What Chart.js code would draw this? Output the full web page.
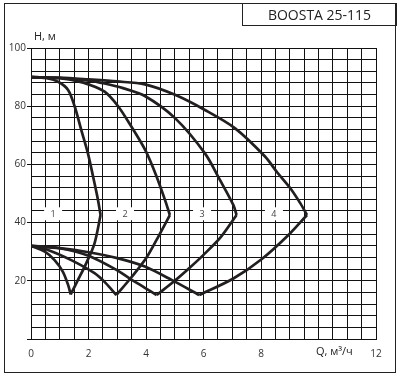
<!DOCTYPE html>
<html>
<head>
<meta charset="utf-8">
<script src="https://cdn.jsdelivr.net/npm/chart.js@4"></script>
<style>
  html, body { margin: 0; padding: 0; background: #fff; }
  #wrap { position: relative; width: 400px; height: 376px; }
  #frame { position: absolute; left: 4px; top: 3px; width: 392px; height: 370px; border: 1px solid #222; box-sizing: border-box; }
  #title { position: absolute; left: 242px; top: 3px; width: 155px; height: 23px; border: 1px solid #222; box-sizing: border-box;
           font: 14px "Open Sans", sans-serif; color: #222; text-align: center; line-height: 21px; }
  canvas { position: absolute; left: 0; top: 0; }
</style>
</head>
<body>
<div id="wrap">
  <canvas id="chart" width="400" height="376"></canvas>
  <div id="frame"></div>
  <div id="title">BOOSTA 25-115</div>
</div>
<script>
// ==== data: [Q, H] ====
const curve1Upper = [[0,90],[0.5,89.7],[0.94,88.4],[1.29,85.6],[1.52,79.9],[1.75,71.8],[1.98,63.8],[2.16,55.8],[2.33,47.8],[2.42,42.6]];
const curve1Right = [[2.42,42.6],[2.21,32.9],[1.92,26],[1.63,20.2],[1.38,15.3]];
const curve1Lower = [[1.38,15.3],[1.29,18.6],[1.11,23.1],[0.82,27.1],[0.48,30],[0,32]];

const curve2Upper = [[0,90],[1,89.6],[1.6,88.6],[2.0,87.5],[2.56,85],[3.03,80],[3.49,73],[3.98,64.8],[4.35,56.3],[4.66,47.8],[4.83,42.6]];
const curve2Right = [[4.83,42.6],[4.43,35.2],[4.02,28],[3.5,21.3],[2.97,15.1]];
const curve2Lower = [[2.97,15.1],[2.6,19.2],[2.21,22.6],[1.4,27.1],[0.59,30.6],[0,32]];

const curve3Upper = [[0,90],[1,89.7],[2,88.8],[2.56,87.8],[3.2,86.2],[3.96,83.5],[5.01,75.9],[6.05,63.8],[6.57,54.7],[7.04,46],[7.15,42.6]];
const curve3Right = [[7.15,42.6],[6.6,35],[6.0,28.9],[5.5,24.3],[5.0,20],[4.37,15.1]];
const curve3Lower = [[4.37,15.1],[3.96,17.6],[3.4,21],[3,23.6],[2,28.6],[1,31.2],[0,32]];

const curve4Upper = [[0,90],[1,89.8],[2,89.2],[3,88.5],[3.96,87.5],[5.01,83.9],[6.05,78.7],[7.1,72.4],[8.14,62.7],[8.56,57.3],[9.02,51.8],[9.37,46.6],[9.6,42.6]];
const curve4Right = [[9.6,42.6],[9.0,36.2],[8.03,27.5],[7.04,20.8],[5.85,15.1]];
const curve4Lower = [[5.85,15.1],[4.89,20.3],[3.96,24.9],[3,27.8],[2,29.8],[1,31.2],[0,32]];

const curveNames = ["1", "2", "3", "4"];
const curveNameQ = [0.77, 3.27, 5.95, 8.45];
const curveNameH = 43.2;

const xTickLabels = [0, 2, 4, 6, 8, 12];   // 10 is replaced by the axis title
const yTickLabels = [20, 40, 60, 80, 100];
const xTitle = "Q, м³/ч";
const yTitle = "H, м";

const segments = [curve1Upper, curve1Right, curve1Lower, curve2Upper, curve2Right, curve2Lower,
                  curve3Upper, curve3Right, curve3Lower, curve4Upper, curve4Right, curve4Lower];

const ink = "#231f20";

/* ---- labels on white boxes + axis titles ---- */
const textPlugin = {
  id: "texts",
  afterDatasetsDraw(chart) {
    const ctx = chart.ctx, xs = chart.scales.x, ys = chart.scales.y;
    ctx.save();
    ctx.font = '9px "Open Sans", sans-serif';
    ctx.textAlign = "center";
    ctx.textBaseline = "middle";
    curveNames.forEach((n, i) => {
      const px = xs.getPixelForValue(curveNameQ[i]);
      const py = ys.getPixelForValue(curveNameH);
      ctx.fillStyle = "#fff";
      ctx.fillRect(px - 9, py - 6, 18, 13);
      ctx.fillStyle = "#444";
      ctx.fillText(n, px, py + 1);
    });
    ctx.fillStyle = "#222";
    ctx.font = '11px "Open Sans", sans-serif';
    ctx.textAlign = "left";
    ctx.fillText(yTitle, chart.chartArea.left + 3, chart.chartArea.top - 11);
    ctx.textAlign = "center";
    ctx.fillText(xTitle, xs.getPixelForValue(10.55), chart.chartArea.bottom + 13);
    ctx.restore();
  }
};

new Chart(document.getElementById("chart"), {
  type: "line",
  data: {
    datasets: segments.map(s => ({
      data: s.map(p => ({ x: p[0], y: p[1] })),
      borderColor: ink,
      borderWidth: 2.7,
      pointRadius: 0,
      tension: 0.3,
      fill: false
    }))
  },
  options: {
    responsive: false,
    animation: false,
    layout: { padding: { top: 48, right: 24, bottom: 0, left: 0 } },
    plugins: { legend: { display: false }, tooltip: { enabled: false } },
    scales: {
      x: {
        type: "linear", min: 0, max: 12,
        afterFit: s => { s.height = 37; },
        grid: { color: "#111", lineWidth: 1, drawTicks: false },
        border: { color: "#111" },
        ticks: {
          stepSize: 0.5, autoSkip: false, maxRotation: 0, padding: 9,
          color: "#333", font: { family: "Open Sans", size: 10 },
          callback: v => xTickLabels.includes(v) ? String(v) : ""
        }
      },
      y: {
        type: "linear", min: 0, max: 100,
        afterFit: s => { s.width = 31; },
        grid: {
          color: "#111", lineWidth: 1, tickLength: 4,
          tickColor: c => (c.tick && (c.tick.value % 20 === 0)) ? "#111" : "rgba(0,0,0,0)"
        },
        border: { color: "#111" },
        ticks: {
          stepSize: 4, autoSkip: false, padding: 1,
          color: "#333", font: { family: "Open Sans", size: 10 },
          callback: v => yTickLabels.includes(v) ? String(v) : ""
        }
      }
    }
  },
  plugins: [textPlugin]
});
</script>
</body>
</html>
